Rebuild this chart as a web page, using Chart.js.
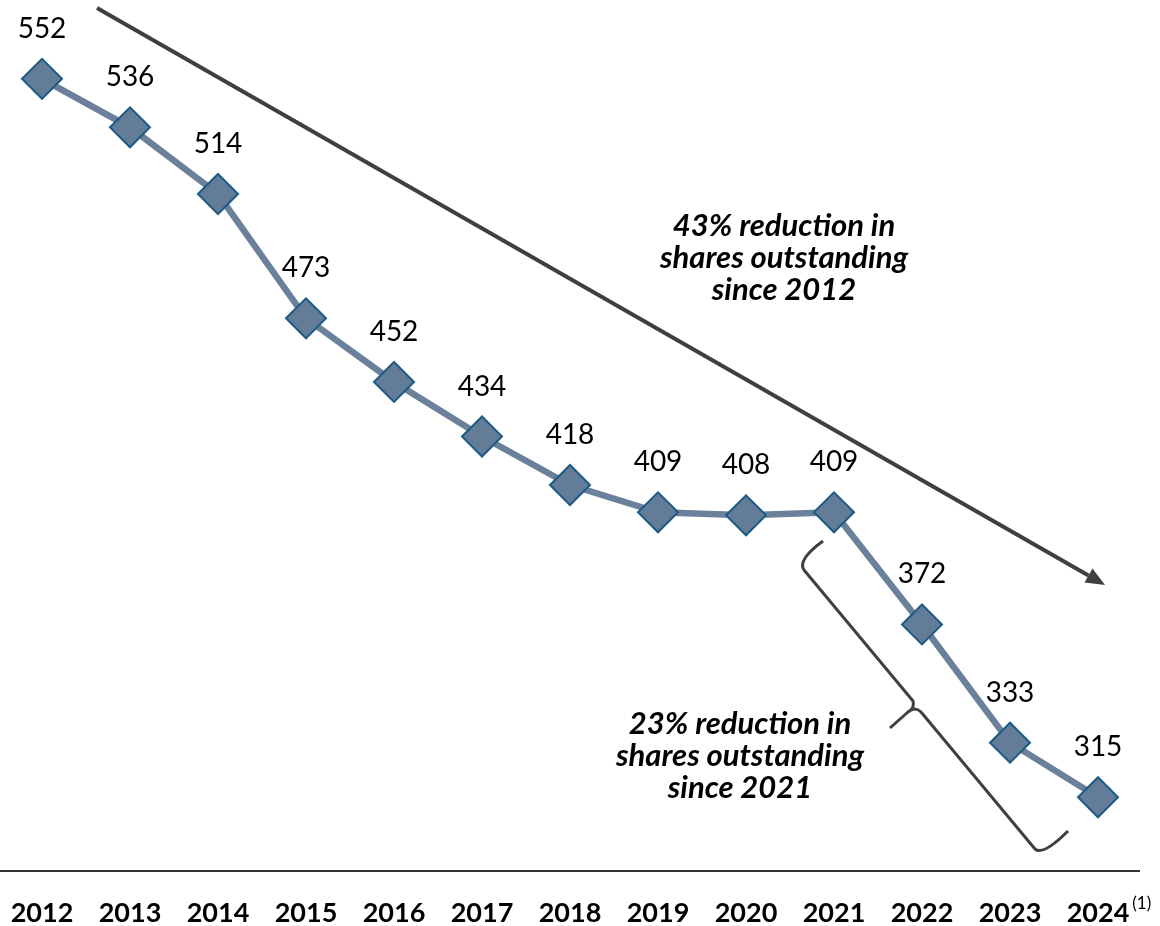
<!DOCTYPE html>
<html>
<head>
<meta charset="utf-8">
<script src="https://cdn.jsdelivr.net/npm/chart.js@4.4.0/dist/chart.umd.min.js"></script>
<style>
  html, body { margin: 0; padding: 0; background: #fff; }
  #sharesChart { display: block; }
</style>
</head>
<body>
<canvas id="sharesChart" width="1160" height="926"></canvas>
<script>
// shares outstanding (millions), year end
const years = ['2012', '2013', '2014', '2015', '2016', '2017', '2018', '2019', '2020', '2021', '2022', '2023', '2024'];
const sharesOutstanding = [552, 536, 514, 473, 452, 434, 418, 409, 408, 409, 372, 333, 315];
const footnoteMark = '(1)';
const noteSince2012 = ['43% reduction in', 'shares outstanding', 'since 2012'];
const noteSince2021 = ['23% reduction in', 'shares outstanding', 'since 2021'];

const FONT = 'Lato, "Liberation Sans", sans-serif';
const INK = '#3f3f3f';

const decorations = {
  id: 'decorations',
  afterDatasetsDraw(chart) {
    const { ctx, chartArea } = chart;
    const meta = chart.getDatasetMeta(0);

    ctx.save();

    // value labels above each marker
    ctx.fillStyle = '#000';
    ctx.font = '28px ' + FONT;
    ctx.textAlign = 'center';
    ctx.textBaseline = 'middle';
    meta.data.forEach((pt, i) => {
      ctx.fillText(String(sharesOutstanding[i]), pt.x, pt.y - 50);
    });

    // baseline under the plot
    ctx.strokeStyle = '#333';
    ctx.lineWidth = 2;
    ctx.beginPath();
    ctx.moveTo(0, chartArea.bottom + 1);
    ctx.lineTo(chartArea.right + 42, chartArea.bottom + 1);
    ctx.stroke();

    // long trend arrow
    const x0 = 97, y0 = 8, x1 = 1105, y1 = 585;
    const len = Math.hypot(x1 - x0, y1 - y0);
    const ux = (x1 - x0) / len, uy = (y1 - y0) / len;
    const head = 19, half = 8;
    ctx.strokeStyle = INK;
    ctx.fillStyle = INK;
    ctx.lineWidth = 4;
    ctx.beginPath();
    ctx.moveTo(x0, y0);
    ctx.lineTo(x1 - ux * head, y1 - uy * head);
    ctx.stroke();
    ctx.beginPath();
    ctx.moveTo(x1, y1);
    ctx.lineTo(x1 - ux * head - uy * half, y1 - uy * head + ux * half);
    ctx.lineTo(x1 - ux * head + uy * half, y1 - uy * head - ux * half);
    ctx.closePath();
    ctx.fill();

    // curly bracket along the 2021-2024 drop
    ctx.lineWidth = 3;
    ctx.lineJoin = 'round';
    ctx.beginPath();
    ctx.moveTo(823, 541);
    ctx.quadraticCurveTo(797, 560, 804, 570);
    ctx.lineTo(913, 701);
    ctx.quadraticCurveTo(915, 708, 908, 712);
    ctx.lineTo(890, 728);
    ctx.moveTo(908, 712);
    ctx.quadraticCurveTo(915, 706, 921, 712);
    ctx.lineTo(1035, 849);
    ctx.quadraticCurveTo(1043, 856, 1068, 831);
    ctx.stroke();

    // annotation notes
    ctx.fillStyle = '#000';
    ctx.font = 'italic bold 31px ' + FONT;
    noteSince2012.forEach((line, i) => ctx.fillText(line, 784, 226 + i * 32));
    noteSince2021.forEach((line, i) => ctx.fillText(line, 740, 724 + i * 32));

    // footnote marker after the last year label
    const xScale = chart.scales.x;
    const lastX = xScale.getPixelForTick(years.length - 1);
    ctx.font = 'bold 27px ' + FONT;
    const w = ctx.measureText(years[years.length - 1]).width;
    ctx.font = '17px ' + FONT;
    ctx.textAlign = 'left';
    ctx.fillText(footnoteMark, lastX + w / 2 + 3, chartArea.bottom + 34);

    ctx.restore();
  }
};

new Chart(document.getElementById('sharesChart'), {
  type: 'line',
  data: {
    labels: years,
    datasets: [{
      data: sharesOutstanding,
      borderColor: '#6b819b',
      borderWidth: 6.5,
      tension: 0,
      pointStyle: 'rectRot',
      pointRadius: 20,
      pointHoverRadius: 20,
      pointBackgroundColor: '#637c98',
      pointBorderColor: '#1c5b86',
      pointBorderWidth: 2,
      clip: false
    }]
  },
  options: {
    responsive: false,
    animation: false,
    events: [],
    layout: { autoPadding: false, padding: { left: 42, right: 62, top: 0, bottom: 0 } },
    plugins: {
      legend: { display: false },
      tooltip: { enabled: false }
    },
    scales: {
      x: {
        offset: false,
        grid: { display: false, drawTicks: false },
        border: { display: false },
        afterFit(scale) {
          scale.paddingLeft = 0;
          scale.paddingRight = 0;
          scale.height = 56;
        },
        ticks: {
          color: '#000',
          padding: 30,
          maxRotation: 0,
          autoSkip: false,
          font: { family: FONT, size: 27, weight: 'bold', lineHeight: 1 }
        }
      },
      y: {
        display: false,
        min: 291,
        max: 578
      }
    }
  },
  plugins: [decorations]
});
</script>
</body>
</html>
